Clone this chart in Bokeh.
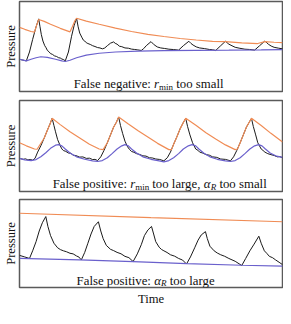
from bokeh.plotting import figure
from bokeh.layouts import column
from bokeh.models import FixedTicker, ColumnDataSource
from bokeh.core.properties import value
from bokeh.embed import file_html
from bokeh.resources import INLINE

# ---------------- data (time 0..100, pressure 0..100) ----------------
# Panel 1: False negative
p1_black_t = [0, 1.0, 2.6, 3.8, 5.0, 6.3, 7.3, 7.8, 8.3, 8.9, 9.6, 10.1, 10.6, 11.2, 11.8, 12.5, 13.3, 14.1,
              14.9, 15.5, 16.1, 16.8, 17.4,
              18.6, 19.8, 20.8, 21.7, 22.3, 22.9, 23.8, 24.3, 24.8, 25.4, 26.0, 26.9, 27.8, 28.7, 29.7, 30.6,
              31.5, 32.4, 33.4, 34.6, 35.8, 36.4, 37.1, 38.0, 38.9, 40.1, 41.4, 42.6, 43.8, 45.0, 46.3, 47.2,
              48.2, 50.0, 51.2, 52.4, 53.7, 55.2, 56.8, 58.6, 60.5, 62.3, 64.4, 65.2, 66.0, 67.2, 68.5, 70.3,
              72.2, 73.4, 74.6, 76.5, 78.3, 79.6, 80.8, 82.0, 83.8, 85.7, 87.5, 89.4, 91.3, 93.3, 94.6, 95.7,
              96.8, 98.4, 100]
p1_black_p = [35.8, 35.1, 34.0, 43.9, 57.9, 71.9, 80.7, 71.9, 63.2, 56.1, 50.9, 48.6, 45.6, 44.2, 42.1, 41.3,
              39.6, 38.9, 37.5, 37.2, 36.1, 35.4, 34.0,
              43.9, 61.4, 73.7, 81.4, 71.9, 64.9, 59.6, 57.0, 56.1, 54.2, 53.3, 52.3, 50.9, 50.0, 48.8, 48.4,
              47.4, 48.3, 50.9, 53.7, 55.1, 53.5, 52.6, 50.3, 49.8, 48.4, 48.1, 47.1, 46.7, 46.2, 45.6, 47.6,
              50.9, 55.4, 51.9, 49.5, 48.4, 47.8, 47.0, 46.6, 46.0, 50.9, 55.8, 53.4, 51.6, 49.6, 48.4, 47.7,
              46.7, 46.4, 45.6, 50.9, 55.8, 52.6, 50.8, 49.1, 48.0, 47.0, 46.7, 46.0, 50.9, 56.1, 52.6, 50.5,
              49.1, 48.2, 47.4]
p1_upper_t = [0, 2.0, 4.4, 5.7, 6.4, 7.3, 9.4, 11.8, 15.5, 19.2, 20.1, 21.1, 21.7, 25.4, 30.3, 36.5, 42.6,
              48.8, 54.9, 61.1, 67.2, 73.4, 78.3, 84.5, 90.6, 93.3, 96.8, 100]
p1_upper_p = [71.2, 69.1, 66.7, 66.0, 72.6, 80.0, 77.9, 74.7, 70.2, 66.3, 71.9, 78.9, 81.4, 78.2, 74.7, 70.5, 66.7,
              63.5, 61.1, 58.9, 57.2, 55.8, 55.4, 54.0, 53.3, 55.4, 54.7, 54.4]
p1_lower_t = [0, 1.0, 2.6, 4.4, 6.3, 8.1, 10.6, 13.7, 16.1, 17.4, 19.2, 21.7, 25.4, 30.3, 36.5, 45.1,
              54.9, 67.2, 79.6, 91.9, 100]
p1_lower_p = [35.8, 35.1, 34.0, 35.8, 37.5, 38.6, 37.9, 35.8, 34.0, 33.3, 34.7, 37.5, 40.4, 42.5, 43.9, 44.9,
              45.4, 45.7, 45.9, 46.2, 46.6]

# Panel 2: False positive (r_min too large, alpha_R too small)
p2_black_t = [0, 1.4, 2.3, 3.2, 4.1, 5.0, 5.9, 6.9, 8.1, 9.4, 10.6, 11.6, 12.4, 13.1, 13.7, 14.5, 15.5, 16.1,
              16.7, 17.6, 18.6, 19.5, 20.4, 21.5, 22.9, 24.1, 25.4, 26.6, 27.8, 28.7, 29.7, 30.9, 32.1, 33.4,
              34.6, 35.8, 36.8, 37.7, 38.4, 39.2, 40.1, 41.1, 41.8, 42.6, 43.5, 44.5, 45.7, 46.9, 48.1, 49.4,
              50.6, 51.8, 53.3, 54.9, 56.2, 57.4, 58.6, 59.9, 61.1, 62.3, 63.2, 63.9, 64.8, 65.8, 67.0, 67.8,
              68.5, 69.7, 71.0, 72.2, 73.4, 75.0, 76.5, 78.3, 80.2, 81.4, 82.6, 83.9, 85.1, 86.3, 87.3, 88.2,
              88.9, 89.8, 90.6, 91.9, 92.6, 93.3, 94.4, 95.6, 96.8, 98.0, 99.0, 100]
p2_black_p = [36.4, 35.4, 35.9, 34.7, 35.2, 34.4, 36.4, 43.3, 50.2, 58.8, 67.4, 74.2, 80.4, 72.5, 65.6, 57.0,
              50.2, 46.8, 45.0, 44.1, 42.3, 42.0, 39.9, 39.4, 37.8, 38.0, 36.4, 36.6, 35.1, 35.3, 34.0, 38.1,
              45.0, 53.6, 62.2, 70.8, 75.9, 81.8, 72.5, 63.9, 55.3, 49.1, 46.3, 44.0, 43.1, 41.6, 40.7, 39.2,
              38.9, 37.1, 36.8, 35.7, 35.2, 33.7, 37.1, 43.3, 51.9, 60.5, 69.1, 75.9, 80.4, 71.5, 62.2, 53.6,
              46.7, 45.4, 43.3, 42.2, 40.5, 39.9, 38.1, 37.5, 35.7, 35.3, 33.7, 38.1, 45.0, 53.6, 62.2, 70.8,
              75.9, 80.4, 71.5, 62.2, 53.6, 46.7, 45.1, 43.3, 41.6, 40.5, 39.6, 38.1, 38.3, 37.1]
p2_upper_t = [0, 2.6, 5.7, 6.7, 9.4, 10.6, 11.6, 12.4, 15.5, 19.2, 22.9, 26.6, 30.3, 31.8, 33.4, 34.6, 35.8,
              36.8, 37.7, 41.4, 45.1, 48.8, 52.5, 56.8, 57.8, 58.6, 59.9, 61.1, 62.3, 63.2, 67.2, 70.9,
              74.6, 78.3, 82.0, 82.9, 83.9, 85.1, 86.3, 87.3, 88.2, 91.9, 95.6, 100]
p2_upper_p = [53.6, 50.2, 46.7, 46.4, 58.8, 67.4, 74.2, 80.4, 73.5, 65.6, 58.8, 51.9, 46.7, 46.0, 53.6, 62.2, 70.8,
              75.9, 81.8, 74.2, 66.7, 59.8, 52.9, 46.0, 46.0, 51.9, 60.5, 69.1, 75.9, 80.4, 72.5, 64.6,
              57.7, 51.2, 46.0, 46.7, 53.6, 62.2, 70.8, 75.9, 80.4, 72.5, 63.9, 54.3]
p2_lower_t = [0, 2.0, 4.4, 6.3, 8.1, 10.0, 11.8, 13.7, 14.9, 16.1, 17.4, 19.2, 21.7, 24.8, 27.8, 29.7, 31.5,
              33.4, 35.2, 37.1, 38.9, 40.1, 41.4, 42.6, 44.5, 46.9, 50.0, 53.1, 54.9, 56.8, 58.6, 60.5,
              62.3, 64.2, 65.6, 67.0, 68.2, 70.0, 72.4, 75.2, 78.3, 80.2, 82.0, 83.9, 85.7, 87.6, 89.4,
              90.9, 92.2, 93.5, 95.3, 97.8, 100]
p2_lower_p = [36.4, 34.7, 34.0, 35.1, 38.1, 42.6, 47.4, 50.9, 51.5, 50.2, 46.7, 42.3, 38.1, 35.4, 33.7, 33.0, 34.0,
              37.1, 41.6, 46.7, 50.2, 51.5, 50.2, 46.7, 42.3, 38.1, 35.4, 33.7, 32.6, 34.0, 37.1, 41.6,
              46.7, 50.2, 51.5, 50.2, 46.7, 42.3, 38.1, 35.4, 33.7, 33.0, 34.0, 37.1, 41.6, 46.7, 50.2,
              51.5, 50.2, 46.7, 42.3, 38.8, 37.5]

# Panel 3: False positive (alpha_R too large)
p3_black_t = [0, 2.0, 3.8, 5.0, 6.3, 7.5, 8.7, 10.0, 10.8, 11.8, 13.1, 14.5, 15.6, 16.7, 17.9, 19.2, 20.4,
              21.7, 22.6, 23.5,
              24.8, 26.0, 27.2, 28.4, 30.0, 30.9, 31.8, 33.0, 34.6, 35.8, 37.1, 38.6, 40.1, 41.6, 43.2, 44.8,
              46.3, 47.5, 48.8, 50.2, 51.0, 51.8, 53.1, 54.0, 54.9, 56.1, 57.4, 59.0, 60.5, 62.0, 63.5, 65.0,
              66.6, 67.9, 69.1, 70.7, 71.4, 72.4, 74.0, 75.2, 76.5, 78.0, 79.6, 82.0, 84.5, 86.0, 87.6, 89.2,
              91.0, 91.9, 93.1, 94.0, 95.0, 96.2, 97.4, 98.7, 100]
p3_black_p = [36.5, 34.7, 33.0, 41.7, 52.1, 64.2, 73.6, 80.6, 69.4, 59.0, 50.3, 45.1, 43.0, 41.7, 40.6, 38.9,
              38.2, 35.8, 34.6, 31.3,
              39.9, 50.3, 60.8, 69.4, 74.7, 64.2, 55.6, 47.9, 43.4, 41.9, 39.9, 38.3, 35.4, 33.9, 29.5, 38.2,
              48.6, 59.0, 65.3, 69.4, 60.8, 52.1, 45.8, 43.2, 41.7, 39.8, 37.2, 35.6, 33.0, 31.2, 26.7, 34.7,
              45.1, 53.8, 59.7, 63.5, 55.6, 46.9, 41.7, 39.2, 37.2, 35.5, 33.0, 29.8, 25.0, 33.0, 41.7, 49.3,
              58.3, 50.3, 41.7, 38.9, 35.4, 33.9, 31.3, 28.7, 26.0]
p3_upper_t = [0, 50, 100]
p3_upper_p = [84.4, 79.5, 74.7]
p3_lower_t = [0, 22.9, 43.2, 63.5, 84.5, 100]
p3_lower_p = [33.0, 31.3, 29.5, 27.1, 25.3, 24.3]

captions = [
    [("False negative: ", False, False), ("r", True, False), ("min", False, True), (" too small", False, False)],
    [("False positive: ", False, False), ("r", True, False), ("min", False, True), (" too large, ", False, False),
     ("\u03b1", True, False), ("R", True, True), (" too small", False, False)],
    [("False positive: ", False, False), ("\u03b1", True, False), ("R", True, True), (" too large", False, False)],
]
caption_center_t = [49.1, 53.3, 48.0]
caption_base_p = [8.4, 8.2, 7.8]

# ---------------- styling ----------------
BLACK = "#1a1a1a"
ORANGE = "#f08c55"
PURPLE = "#6a60cc"
SERIF = "Liberation Serif"
CAP_FS = 12.8
AX_FS = "12.6px"

ROMAN_W = {' ': 250, ',': 250, ':': 278, 'F': 556, 'a': 444, 'e': 444, 'g': 500, 'i': 278, 'l': 278,
           'm': 778, 'n': 500, 'o': 500, 'p': 500, 'r': 333, 's': 389, 't': 278, 'v': 500}
ITALIC_W = {'r': 389, 'R': 611, '\u03b1': 540}


def text_width(s, italic, size):
    tbl = ITALIC_W if italic else ROMAN_W
    return sum(tbl.get(ch, 500) for ch in s) / 1000.0 * size


def caption_source(pieces, center_t, base_p):
    texts, xs, ys, xo, yo, sizes, styles = [], [], [], [], [], [], []
    total = sum(text_width(t, it, CAP_FS * (0.7 if sub else 1.0)) for t, it, sub in pieces)
    cursor = -total / 2.0
    for t, it, sub in pieces:
        size = CAP_FS * (0.7 if sub else 1.0)
        lead = len(t) - len(t.lstrip(' '))
        lead_w = text_width(' ' * lead, it, size)
        texts.append(t.strip(' '))
        xs.append(center_t)
        ys.append(base_p)
        xo.append(cursor + lead_w)
        yo.append(0.22 * CAP_FS if sub else 0.0)
        sizes.append("%.1fpx" % size)
        styles.append("italic" if it else "normal")
        cursor += text_width(t, it, size)
    return ColumnDataSource(dict(text=texts, x=xs, y=ys, xo=xo, yo=yo, size=sizes, style=styles))


def make_panel(height, top, bottom, black, upper, lower, cap_idx, show_time):
    p = figure(width=283, height=height, x_range=(0, 100), y_range=(0, 100),
               output_backend="svg", toolbar_location=None,
               min_border_left=16, min_border_right=1, min_border_top=top, min_border_bottom=bottom)
    p.grid.visible = False
    p.outline_line_color = "#5a5a5a"
    p.outline_line_width = 1.5
    p.background_fill_color = "white"
    p.border_fill_color = "white"

    ya = p.yaxis[0]
    ya.ticker = FixedTicker(ticks=[])
    ya.axis_line_color = None
    ya.major_tick_line_color = None
    ya.minor_tick_line_color = None
    ya.major_tick_out = 0
    ya.major_label_standoff = 0
    ya.axis_label = "Pressure"
    ya.axis_label_text_font = SERIF
    ya.axis_label_text_font_style = "normal"
    ya.axis_label_text_font_size = AX_FS
    ya.axis_label_text_color = "#111111"
    ya.axis_label_standoff = 2

    xa = p.xaxis[0]
    if show_time:
        xa.ticker = FixedTicker(ticks=[])
        xa.axis_line_color = None
        xa.major_tick_line_color = None
        xa.minor_tick_line_color = None
        xa.major_tick_out = 0
        xa.major_label_standoff = 0
        xa.axis_label = "Time"
        xa.axis_label_text_font = SERIF
        xa.axis_label_text_font_style = "normal"
        xa.axis_label_text_font_size = AX_FS
        xa.axis_label_text_color = "#111111"
        xa.axis_label_standoff = 4
    else:
        xa.visible = False

    p.line(black[0], black[1], line_color=BLACK, line_width=1.0)
    p.line(upper[0], upper[1], line_color=ORANGE, line_width=1.2)
    p.line(lower[0], lower[1], line_color=PURPLE, line_width=1.2)

    src = caption_source(captions[cap_idx], caption_center_t[cap_idx], caption_base_p[cap_idx])
    p.text(x="x", y="y", text="text", x_offset="xo", y_offset="yo", source=src,
           text_font=value(SERIF), text_font_size="size", text_font_style="style",
           text_color="#111111", text_align="left", text_baseline="alphabetic")
    return p


p1 = make_panel(96, 1, 5, (p1_black_t, p1_black_p), (p1_upper_t, p1_upper_p), (p1_lower_t, p1_lower_p), 0, False)
p2 = make_panel(98, 4, 3, (p2_black_t, p2_black_p), (p2_upper_t, p2_upper_p), (p2_lower_t, p2_lower_p), 1, False)
p3 = make_panel(114, 5, 18, (p3_black_t, p3_black_p), (p3_upper_t, p3_upper_p), (p3_lower_t, p3_lower_p), 2, True)

layout = column(p1, p2, p3, spacing=0)
open("out.html", "w").write(file_html(layout, INLINE))
